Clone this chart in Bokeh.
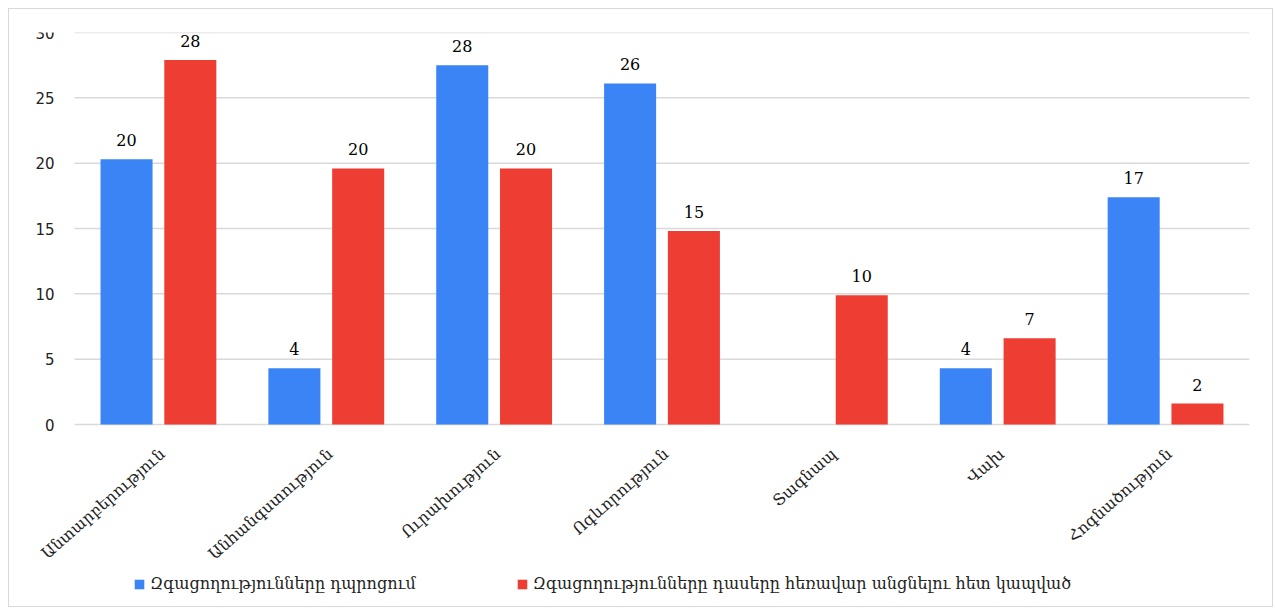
from bokeh.plotting import figure
from bokeh.models import ColumnDataSource, LabelSet, Legend, LegendItem, Range1d
from bokeh.core.properties import value
from bokeh.embed import file_html
from bokeh.resources import INLINE

categories = ["Անտարբերություն", "Անհանգստություն", "Ուրախություն", "Ոգևորություն",
              "Տագնապ", "Վախ", "Հոգնածություն"]
series_school = [20.3, 4.3, 27.5, 26.1, 0, 4.3, 17.4]
series_remote = [27.9, 19.6, 19.6, 14.8, 9.9, 6.6, 1.6]
series_names = ["Զգացողությունները դպրոցում",
                "Զգացողությունները դասերը հեռավար անցնելու հետ կապված"]
y_ticks = [0, 5, 10, 15, 20, 25, 30]

def lab(v):
    return "" if v == 0 else str(int(round(v)))

n = len(categories)
centers = [i + 0.5 for i in range(n)]
OFF = 0.19
src = ColumnDataSource(dict(
    cat=categories,
    xc=centers,
    xa=[c - OFF for c in centers],
    xb=[c + OFF for c in centers],
    a=series_school,
    b=series_remote,
    ta=[lab(v) for v in series_school],
    tb=[lab(v) for v in series_remote],
))

SERIF = "DejaVu Serif"
SANS = "DejaVu Sans"

# layout of the drawing region (pixels)
CAT_PX = 1175 / n
LEFT_EXTRA_PX = 60
FRAME_W = 1175 + LEFT_EXTRA_PX
PX_PER_UNIT = 392 / 30.0
FRAME_H = 574
x_start = -LEFT_EXTRA_PX / CAT_PX
y_top = 30
y_bottom = y_top - FRAME_H / PX_PER_UNIT

p = figure(x_range=Range1d(x_start, n), y_range=Range1d(y_bottom, y_top),
           frame_width=FRAME_W, frame_height=FRAME_H,
           output_backend="svg", toolbar_location=None,
           x_axis_location=None, y_axis_location=None,
           min_border_left=5, min_border_right=23, min_border_top=23, min_border_bottom=0)
p.styles = {"border": "1px solid #d9d9d9", "margin-left": "8px", "margin-top": "8px"}
p.outline_line_color = None
p.background_fill_color = "white"
p.xgrid.grid_line_color = None
p.ygrid.grid_line_color = None

# horizontal gridlines across the category area
grid_src = ColumnDataSource(dict(y=y_ticks, x0=[0] * len(y_ticks), x1=[n] * len(y_ticks),
                                 t=[str(t) for t in y_ticks], xl=[x_start] * len(y_ticks)))
p.segment(x0="x0", y0="y", x1="x1", y1="y", source=grid_src,
          line_color="#d9d9d9", line_width=1.5)

# y tick labels
p.add_layout(LabelSet(x="xl", y="y", text="t", source=grid_src, x_offset=40,
                      text_align="right", text_baseline="middle",
                      text_font=value(SANS), text_font_size="15px", text_color="#222222"))

blue = "#3b84f5"
red = "#ee3d32"
ra = p.vbar(x="xa", top="a", bottom=0, width=0.31, source=src,
            fill_color=blue, line_color=None)
rb = p.vbar(x="xb", top="b", bottom=0, width=0.31, source=src,
            fill_color=red, line_color=None)

for xcol, col in [("xa", "a"), ("xb", "b")]:
    p.add_layout(LabelSet(x=xcol, y=col, text="t" + col, source=src,
                          text_align="center", text_baseline="bottom", y_offset=13,
                          text_font=value(SERIF), text_font_size="16px", text_color="#000000"))

# rotated category labels below the baseline
p.add_layout(LabelSet(x="xc", y=0, text="cat", source=src, angle=0.72,
                      text_align="right", text_baseline="middle", x_offset=4, y_offset=-27,
                      text_font=value(SERIF), text_font_size="16px", text_color="#222222"))

legend = Legend(items=[LegendItem(label=series_names[0], renderers=[ra]),
                       LegendItem(label=series_names[1], renderers=[rb])],
                orientation="horizontal", location=(119, 13), spacing=100,
                label_text_font=SERIF, label_text_font_size="16px",
                label_text_color="#222222", glyph_width=12, glyph_height=12,
                background_fill_alpha=0,
                border_line_color=None, margin=0, padding=4)
p.add_layout(legend)

open("out.html", "w").write(file_html(p, INLINE))
